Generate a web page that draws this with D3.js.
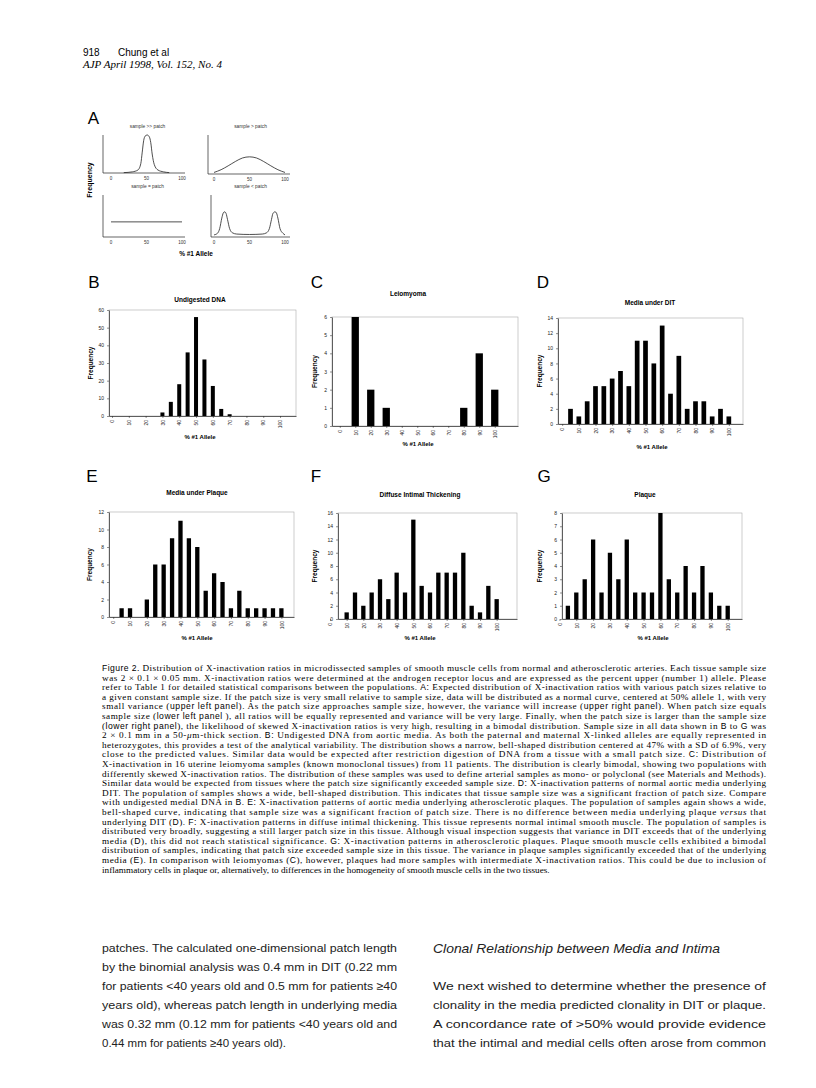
<!DOCTYPE html>
<html>
<head>
<meta charset="utf-8">
<script src="https://cdn.jsdelivr.net/npm/d3@7"></script>
<style>
body { margin: 0; background: #fff; }
svg { display: block; }
</style>
</head>
<body>
<svg id="page" width="816" height="1088"></svg>
<script>

// ---------- data ----------

const xTickLabels = [0, 10, 20, 30, 40, 50, 60, 70, 80, 90, 100];
const aTickLabels = [0, 50, 100];

// panel A, idealised curves (x = % allele 1, y = share of the panel height)
const narrowX = [18, 30, 38, 42, 44, 46, 48, 51, 54, 56, 58, 61, 66, 74, 82];
const narrowY = [0.01, 0.03, 0.08, 0.25, 0.55, 0.85, 0.97, 1.0, 0.95, 0.8, 0.5, 0.22, 0.08, 0.03, 0.01];
const wideX = [0, 10, 20, 30, 40, 50, 60, 70, 80, 90, 100];
const wideY = [0.04, 0.11, 0.21, 0.32, 0.41, 0.44, 0.41, 0.32, 0.21, 0.11, 0.04];
const flatX = [0, 100];
const flatY = [0.36, 0.36];
const bimodalX = [0, 5, 8, 11, 13, 15, 17, 19, 22, 26, 32, 50, 68, 74, 78, 81, 83, 86, 88, 90, 93, 97, 100];
const bimodalY = [0.05, 0.09, 0.2, 0.45, 0.57, 0.6, 0.56, 0.42, 0.2, 0.1, 0.07, 0.06, 0.07, 0.1, 0.2, 0.42, 0.56, 0.6, 0.57, 0.45, 0.2, 0.09, 0.05];

// panels B-G, histograms of % #1 allele
const binsB = [30, 35, 40, 45, 50, 55, 60, 65, 70];
const freqB = [2, 8, 18, 36, 56, 32, 17, 4, 1];

const binsC = [10, 20, 30, 80, 90, 100];
const freqC = [6, 2, 1, 1, 4, 2];

const binsD = [5, 10, 15, 20, 25, 30, 35, 40, 45, 50, 55, 60, 65, 70, 75, 80, 85, 90, 95, 100];
const freqD = [2, 1, 3, 5, 5, 6, 7, 5, 11, 11, 8, 13, 4, 9, 2, 3, 3, 1, 2, 1];

const binsE = [5, 10, 20, 25, 30, 35, 40, 45, 50, 55, 60, 65, 70, 75, 80, 85, 90, 95, 100];
const freqE = [1, 1, 2, 6, 6, 9, 11, 9, 8, 3, 5, 4, 1, 3, 1, 1, 1, 1, 1];

const binsF = [10, 15, 20, 25, 30, 35, 40, 45, 50, 55, 60, 65, 70, 75, 80, 85, 90, 95, 100];
const freqF = [1, 4, 2, 4, 6, 3, 7, 4, 15, 5, 4, 7, 7, 7, 10, 2, 1, 5, 3];

const binsG = [5, 10, 15, 20, 25, 30, 35, 40, 45, 50, 55, 60, 65, 70, 75, 80, 85, 90, 95, 100];
const freqG = [1, 2, 3, 6, 2, 5, 3, 6, 2, 2, 2, 8, 3, 2, 4, 2, 4, 2, 1, 1];

// ---------- page text ----------

const captionLines = [
  "**Figure 2.** Distribution of X-inactivation ratios in microdissected samples of smooth muscle cells from normal and atherosclerotic arteries. Each tissue sample size",
  "was 2 × 0.1 × 0.05 mm. X-inactivation ratios were determined at the androgen receptor locus and are expressed as the percent upper (number 1) allele. Please",
  "refer to Table 1 for detailed statistical comparisons between the populations. **A:** Expected distribution of X-inactivation ratios with various patch sizes relative to",
  "a given constant sample size. If the patch size is very small relative to sample size, data will be distributed as a normal curve, centered at 50% allele 1, with very",
  "small variance (**upper left panel**). As the patch size approaches sample size, however, the variance will increase (**upper right panel**). When patch size equals",
  "sample size (**lower left panel** ), all ratios will be equally represented and variance will be very large. Finally, when the patch size is larger than the sample size",
  "(**lower right panel**), the likelihood of skewed X-inactivation ratios is very high, resulting in a bimodal distribution. Sample size in all data shown in **B** to **G** was",
  "2 × 0.1 mm in a 50-_μ_m-thick section. **B:** Undigested DNA from aortic media. As both the paternal and maternal X-linked alleles are equally represented in",
  "heterozygotes, this provides a test of the analytical variability. The distribution shows a narrow, bell-shaped distribution centered at 47% with a SD of 6.9%, very",
  "close to the predicted values. Similar data would be expected after restriction digestion of DNA from a tissue with a small patch size. **C:** Distribution of",
  "X-inactivation in 16 uterine leiomyoma samples (known monoclonal tissues) from 11 patients. The distribution is clearly bimodal, showing two populations with",
  "differently skewed X-inactivation ratios. The distribution of these samples was used to define arterial samples as mono- or polyclonal (see Materials and Methods).",
  "Similar data would be expected from tissues where the patch size significantly exceeded sample size. **D:** X-inactivation patterns of normal aortic media underlying",
  "DIT. The population of samples shows a wide, bell-shaped distribution. This indicates that tissue sample size was a significant fraction of patch size. Compare",
  "with undigested medial DNA in **B**. **E:** X-inactivation patterns of aortic media underlying atherosclerotic plaques. The population of samples again shows a wide,",
  "bell-shaped curve, indicating that sample size was a significant fraction of patch size. There is no difference between media underlying plaque _versus_ that",
  "underlying DIT (**D**). **F:** X-inactivation patterns in diffuse intimal thickening. This tissue represents normal intimal smooth muscle. The population of samples is",
  "distributed very broadly, suggesting a still larger patch size in this tissue. Although visual inspection suggests that variance in DIT exceeds that of the underlying",
  "media (**D**), this did not reach statistical significance. **G:** X-inactivation patterns in atherosclerotic plaques. Plaque smooth muscle cells exhibited a bimodal",
  "distribution of samples, indicating that patch size exceeded sample size in this tissue. The variance in plaque samples significantly exceeded that of the underlying",
  "media (**E**). In comparison with leiomyomas (**C**), however, plaques had more samples with intermediate X-inactivation ratios. This could be due to inclusion of",
  "inflammatory cells in plaque or, alternatively, to differences in the homogeneity of smooth muscle cells in the two tissues."
];

const leftColumn = [
  "patches. The calculated one-dimensional patch length",
  "by the binomial analysis was 0.4 mm in DIT (0.22 mm",
  "for patients <40 years old and 0.5 mm for patients ≥40",
  "years old), whereas patch length in underlying media",
  "was 0.32 mm (0.12 mm for patients <40 years old and",
  "0.44 mm for patients ≥40 years old)."
];

const rightHeading = "Clonal Relationship between Media and Intima";
const rightColumn = [
  "We next wished to determine whether the presence of",
  "clonality in the media predicted clonality in DIT or plaque.",
  "A concordance rate of >50% would provide evidence",
  "that the intimal and medial cells often arose from common"
];


let svg = d3.select('#page');
svg.append('rect').attr('width', 816).attr('height', 1088).attr('fill', '#fff');

const SANS = 'Liberation Sans, Arial, Helvetica, sans-serif';
const SERIF = 'Liberation Serif, Times New Roman, serif';

// header
svg.append('text').attr('x', 83).attr('y', 56).text('918')
   .style('font-family', SANS).style('font-size', '10px');
svg.append('text').attr('x', 118).attr('y', 56).text('Chung et al')
   .style('font-family', SANS).style('font-size', '10px');
svg.append('text').attr('x', 83).attr('y', 67.5).text('AJP April 1998, Vol. 152, No. 4')
   .style('font-family', SERIF).style('font-size', '11px').style('font-style', 'italic');


function panelLetter(ch, x, y) {
  svg.append('text').attr('x', x).attr('y', y).attr('text-anchor', 'middle')
     .text(ch).style('font-family', SANS).style('font-size', '17px');
}


// ---------- panel A ----------
panelLetter('A', 93.5, 124);

function drawIdeal(p, xs, ys) {
  let x = d3.scaleLinear().domain([0, 100]).range([p.x0, p.x100]);
  let y = d3.scaleLinear().domain([0, 1]).range([p.bottom, p.top]);
  let g = svg.append('g');

  // L shaped axes
  g.append('path')
   .attr('d', `M${p.left},${p.top}V${p.bottom}H${p.right}`)
   .attr('fill', 'none').attr('stroke', '#222').attr('stroke-width', 0.7);

  g.selectAll('.atick').data(aTickLabels).join('text')
   .attr('x', d => x(d)).attr('y', p.bottom + 7)
   .attr('text-anchor', 'middle')
   .text(d => d)
   .style('font-family', SANS).style('font-size', '4.5px').style('fill', '#333');

  g.append('text').attr('x', (p.x0 + p.x100) / 2 + 1).attr('y', p.top - 7)
   .attr('text-anchor', 'middle').text(p.title)
   .style('font-family', SANS).style('font-size', '4.8px').style('fill', '#333');

  let pts = xs.map((v, i) => [v, ys[i]]);
  let line = d3.line().x(d => x(d[0])).y(d => y(d[1])).curve(d3.curveMonotoneX);
  g.append('path').attr('d', line(pts))
   .attr('fill', 'none').attr('stroke', '#222').attr('stroke-width', 0.8);
}

drawIdeal({left: 103, right: 185, x0: 111, x100: 182, top: 135, bottom: 173, title: 'sample >> patch'}, narrowX, narrowY);
drawIdeal({left: 208, right: 290, x0: 214, x100: 285, top: 135, bottom: 174, title: 'sample > patch'}, wideX, wideY);
drawIdeal({left: 103, right: 185, x0: 111, x100: 182, top: 195, bottom: 237, title: 'sample = patch'}, flatX, flatY);
drawIdeal({left: 211, right: 290, x0: 214, x100: 285, top: 195, bottom: 237, title: 'sample < patch'}, bimodalX, bimodalY);

svg.append('text').attr('transform', 'translate(92,180) rotate(-90)')
   .attr('text-anchor', 'middle').text('Frequency')
   .style('font-family', SANS).style('font-size', '7px').style('font-weight', 'bold');
svg.append('text').attr('x', 196).attr('y', 256)
   .attr('text-anchor', 'middle').text('% #1 Allele')
   .style('font-family', SANS).style('font-size', '6.5px').style('font-weight', 'bold');


// ---------- panels B to G ----------

function drawHist(p) {
  let g = svg.append('g');
  let x = d3.scaleLinear().domain(p.xDomain).range([p.left, p.right]);
  let y = d3.scaleLinear().domain([0, p.yMax]).range([p.bottom, p.top]);

  panelLetter(p.letter, p.letterX, p.letterY);

  // plot frame
  g.append('rect').attr('x', p.left).attr('y', p.top)
   .attr('width', p.right - p.left).attr('height', p.bottom - p.top)
   .attr('fill', 'none').attr('stroke', '#aaa').attr('stroke-width', 0.6);

  let yAxis = d3.axisLeft(y).tickValues(d3.range(0, p.yMax + 0.001, p.yStep))
                .tickFormat(d3.format('d'))
                .tickSize(2).tickSizeOuter(0).tickPadding(3);
  let gy = g.append('g').attr('transform', `translate(${p.left},0)`).call(yAxis);

  let xAxis = d3.axisBottom(x).tickValues(xTickLabels).tickFormat(d3.format('d'))
                .tickSize(2).tickSizeOuter(0).tickPadding(2);
  let gx = g.append('g').attr('transform', `translate(0,${p.bottom})`).call(xAxis);
  gx.selectAll('text')
    .attr('transform', 'rotate(-90)')
    .attr('text-anchor', 'end')
    .attr('x', -4).attr('y', 0).attr('dy', '0.35em');

  [gy, gx].forEach(a => {
    a.select('.domain').attr('stroke', '#222').attr('stroke-width', 0.7);
    a.selectAll('line').attr('stroke', '#222').attr('stroke-width', 0.5);
    a.selectAll('text').style('font-family', SANS).style('font-size', '5px').style('fill', '#222');
  });

  g.selectAll('.bar')
   .data(p.bins.map((b, i) => ({bin: b, n: p.freq[i]})))
   .join('rect')
   .classed('bar', true)
   .attr('x', d => x(d.bin) - p.barW / 2)
   .attr('y', d => y(d.n))
   .attr('width', p.barW)
   .attr('height', d => y(0) - y(d.n))
   .attr('fill', '#000');

  g.append('text').attr('x', p.titleX).attr('y', p.titleY)
   .attr('text-anchor', 'middle').text(p.title)
   .style('font-family', SANS).style('font-size', '6.5px').style('font-weight', 'bold');

  g.append('text').attr('transform', `translate(${p.freqX},${(p.top + p.bottom) / 2}) rotate(-90)`)
   .attr('text-anchor', 'middle').attr('dy', '0.35em').text('Frequency')
   .style('font-family', SANS).style('font-size', '6.5px').style('font-weight', 'bold');

  g.append('text').attr('x', p.alleleX).attr('y', p.alleleY)
   .attr('text-anchor', 'middle').text('% #1 Allele')
   .style('font-family', SANS).style('font-size', '6px').style('font-weight', 'bold');
}

drawHist({letter: 'B', letterX: 94, letterY: 288, bins: binsB, freq: freqB,
  left: 109, right: 296, top: 310, bottom: 416, xDomain: [-1.8, 109.5], yMax: 60, yStep: 10, barW: 4,
  title: 'Undigested DNA', titleX: 200, titleY: 302, freqX: 91, alleleX: 200, alleleY: 439});

drawHist({letter: 'C', letterX: 317, letterY: 288, bins: binsC, freq: freqC,
  left: 332, right: 518, top: 317, bottom: 426, xDomain: [-5, 115], yMax: 6, yStep: 1, barW: 7.3,
  title: 'Leiomyoma', titleX: 408, titleY: 296, freqX: 315, alleleX: 418, alleleY: 446});

drawHist({letter: 'D', letterX: 543, letterY: 288, bins: binsD, freq: freqD,
  left: 558, right: 743, top: 318, bottom: 424, xDomain: [-2.5, 108.5], yMax: 14, yStep: 2, barW: 4.7,
  title: 'Media under DIT', titleX: 650, titleY: 305, freqX: 540, alleleX: 652, alleleY: 449});

drawHist({letter: 'E', letterX: 92, letterY: 482, bins: binsE, freq: freqE,
  left: 109, right: 294, top: 512, bottom: 617, xDomain: [-2.5, 107.5], yMax: 12, yStep: 2, barW: 4.3,
  title: 'Media under Plaque', titleX: 197, titleY: 495, freqX: 90, alleleX: 197, alleleY: 640});

drawHist({letter: 'F', letterX: 316, letterY: 482, bins: binsF, freq: freqF,
  left: 338, right: 517, top: 513, bottom: 619, xDomain: [4.8, 112.2], yMax: 16, yStep: 2, barW: 4.3,
  title: 'Diffuse Intimal Thickening', titleX: 420, titleY: 497, freqX: 315, alleleX: 420, alleleY: 640});

drawHist({letter: 'G', letterX: 544, letterY: 482, bins: binsG, freq: freqG,
  left: 562, right: 742, top: 513, bottom: 619, xDomain: [1.5, 108.5], yMax: 8, yStep: 1, barW: 4.3,
  title: 'Plaque', titleX: 645, titleY: 497, freqX: 540, alleleX: 653, alleleY: 640});


// ---------- caption ----------

function writeLine(str, x, y, width, justify, base, boldFont) {
  let t = svg.append('text').attr('x', x).attr('y', y)
     .style('font-family', base.family).style('font-size', base.size);
  if (justify) t.attr('textLength', width).attr('lengthAdjust', 'spacing');
  // ** toggles bold sans, _ toggles italic
  let bold = false, ital = false;
  str.split(/(\*\*|_)/).forEach(part => {
    if (part == '**') { bold = !bold; return; }
    if (part == '_') { ital = !ital; return; }
    if (part == '') return;
    let s = t.append('tspan').text(part);
    if (bold) s.style('font-family', boldFont.family).style('font-size', boldFont.size);
    if (ital) s.style('font-style', 'italic');
  });
  return t;
}

const capFont = {family: SERIF, size: '9.2px'};
const capBold = {family: SANS, size: '8.6px'};
captionLines.forEach((ln, i) => {
  writeLine(ln, 102, 671 + i * 9.6, 664, i < captionLines.length - 1, capFont, capBold);
});


// ---------- body text ----------

const bodyFont = {family: SANS, size: '11.5px'};
leftColumn.forEach((ln, i) => {
  let t = writeLine(ln, 102, 952 + i * 18.9, 295, false, bodyFont, bodyFont);
  if (i < leftColumn.length - 1) t.attr('textLength', 295).attr('lengthAdjust', 'spacingAndGlyphs');
  t.style('fill', '#222');
});

svg.append('text').attr('x', 433).attr('y', 953).text(rightHeading)
   .attr('textLength', 287).attr('lengthAdjust', 'spacingAndGlyphs')
   .style('font-family', SANS).style('font-size', '13.5px').style('font-style', 'italic').style('fill', '#222');

rightColumn.forEach((ln, i) => {
  let t = writeLine(ln, 433, 990 + i * 18.9, 333, false, bodyFont, bodyFont);
  t.attr('textLength', 333).attr('lengthAdjust', 'spacingAndGlyphs').style('fill', '#222');
});

</script>
</body>
</html>
